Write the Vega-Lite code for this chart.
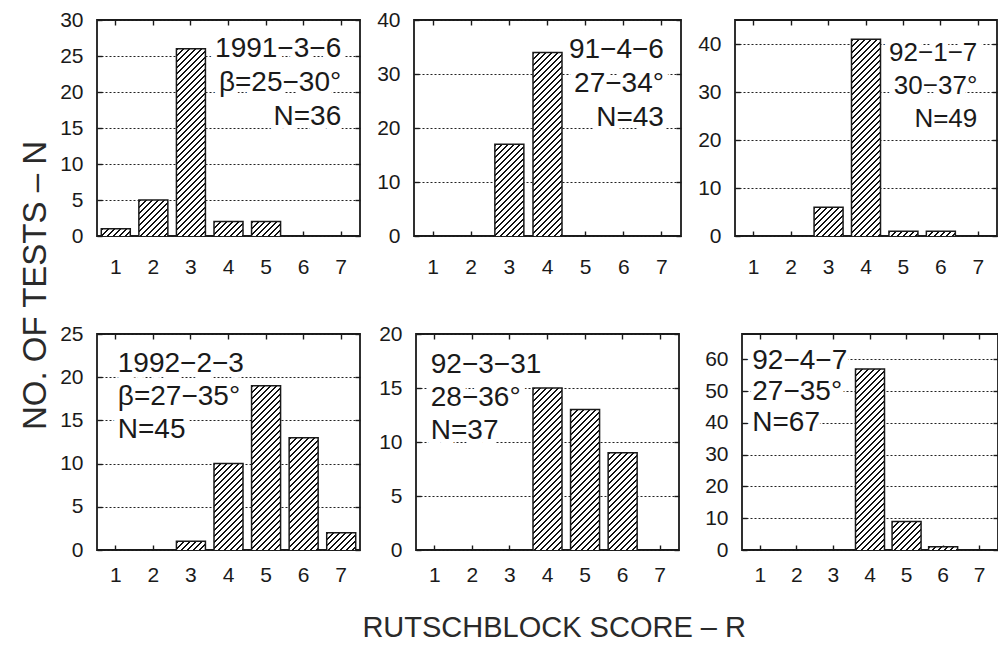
{
  "$schema": "https://vega.github.io/schema/vega-lite/v6.json",
  "background": "white",
  "padding": {"left": 19, "top": 8, "right": 0, "bottom": 0},
  "datasets": {
    "p1": [{"score": 1, "n": 1}, {"score": 2, "n": 5}, {"score": 3, "n": 26}, {"score": 4, "n": 2}, {"score": 5, "n": 2}, {"score": 6, "n": 0}, {"score": 7, "n": 0}],
    "p2": [{"score": 1, "n": 0}, {"score": 2, "n": 0}, {"score": 3, "n": 17}, {"score": 4, "n": 34}, {"score": 5, "n": 0}, {"score": 6, "n": 0}, {"score": 7, "n": 0}],
    "p3": [{"score": 1, "n": 0}, {"score": 2, "n": 0}, {"score": 3, "n": 6}, {"score": 4, "n": 41}, {"score": 5, "n": 1}, {"score": 6, "n": 1}, {"score": 7, "n": 0}],
    "p4": [{"score": 1, "n": 0}, {"score": 2, "n": 0}, {"score": 3, "n": 1}, {"score": 4, "n": 10}, {"score": 5, "n": 19}, {"score": 6, "n": 13}, {"score": 7, "n": 2}],
    "p5": [{"score": 1, "n": 0}, {"score": 2, "n": 0}, {"score": 3, "n": 0}, {"score": 4, "n": 15}, {"score": 5, "n": 13}, {"score": 6, "n": 9}, {"score": 7, "n": 0}],
    "p6": [{"score": 1, "n": 0}, {"score": 2, "n": 0}, {"score": 3, "n": 0}, {"score": 4, "n": 57}, {"score": 5, "n": 9}, {"score": 6, "n": 1}, {"score": 7, "n": 0}]
  },
  "config": {
    "font": "Liberation Sans",
    "view": {"stroke": "#1a1a1a", "strokeWidth": 1.8},
    "axis": {"labelFont": "Liberation Sans", "labelFontSize": 21, "labelColor": "#1a1a1a", "tickColor": "#1a1a1a", "tickWidth": 1.4},
    "text": {"font": "Liberation Sans", "fontSize": 28, "color": "#1a1a1a"},
    "tick": {
      "opacity": 1,
      "stroke": "#1a1a1a",
      "strokeWidth": 1.5,
      "fill": {
        "gradient": "linear", "x1": 0, "y1": 0, "x2": 0.149588, "y2": 1.114173,
        "stops": [
          {"offset": 0, "color": "#fff"},
          {"offset": 0.001523, "color": "#fff"}, {"offset": 0.001523, "color": "#111"}, {"offset": 0.009686, "color": "#111"}, {"offset": 0.009686, "color": "#fff"},
          {"offset": 0.026013, "color": "#fff"}, {"offset": 0.026013, "color": "#111"}, {"offset": 0.034176, "color": "#111"}, {"offset": 0.034176, "color": "#fff"},
          {"offset": 0.050503, "color": "#fff"}, {"offset": 0.050503, "color": "#111"}, {"offset": 0.058666, "color": "#111"}, {"offset": 0.058666, "color": "#fff"},
          {"offset": 0.074992, "color": "#fff"}, {"offset": 0.074992, "color": "#111"}, {"offset": 0.083155, "color": "#111"}, {"offset": 0.083155, "color": "#fff"},
          {"offset": 0.099482, "color": "#fff"}, {"offset": 0.099482, "color": "#111"}, {"offset": 0.107645, "color": "#111"}, {"offset": 0.107645, "color": "#fff"},
          {"offset": 0.123972, "color": "#fff"}, {"offset": 0.123972, "color": "#111"}, {"offset": 0.132135, "color": "#111"}, {"offset": 0.132135, "color": "#fff"},
          {"offset": 0.148462, "color": "#fff"}, {"offset": 0.148462, "color": "#111"}, {"offset": 0.156625, "color": "#111"}, {"offset": 0.156625, "color": "#fff"},
          {"offset": 0.172952, "color": "#fff"}, {"offset": 0.172952, "color": "#111"}, {"offset": 0.181115, "color": "#111"}, {"offset": 0.181115, "color": "#fff"},
          {"offset": 0.197441, "color": "#fff"}, {"offset": 0.197441, "color": "#111"}, {"offset": 0.205604, "color": "#111"}, {"offset": 0.205604, "color": "#fff"},
          {"offset": 0.221931, "color": "#fff"}, {"offset": 0.221931, "color": "#111"}, {"offset": 0.230094, "color": "#111"}, {"offset": 0.230094, "color": "#fff"},
          {"offset": 0.246421, "color": "#fff"}, {"offset": 0.246421, "color": "#111"}, {"offset": 0.254584, "color": "#111"}, {"offset": 0.254584, "color": "#fff"},
          {"offset": 0.270911, "color": "#fff"}, {"offset": 0.270911, "color": "#111"}, {"offset": 0.279074, "color": "#111"}, {"offset": 0.279074, "color": "#fff"},
          {"offset": 0.295401, "color": "#fff"}, {"offset": 0.295401, "color": "#111"}, {"offset": 0.303564, "color": "#111"}, {"offset": 0.303564, "color": "#fff"},
          {"offset": 0.31989, "color": "#fff"}, {"offset": 0.31989, "color": "#111"}, {"offset": 0.328053, "color": "#111"}, {"offset": 0.328053, "color": "#fff"},
          {"offset": 0.34438, "color": "#fff"}, {"offset": 0.34438, "color": "#111"}, {"offset": 0.352543, "color": "#111"}, {"offset": 0.352543, "color": "#fff"},
          {"offset": 0.36887, "color": "#fff"}, {"offset": 0.36887, "color": "#111"}, {"offset": 0.377033, "color": "#111"}, {"offset": 0.377033, "color": "#fff"},
          {"offset": 0.39336, "color": "#fff"}, {"offset": 0.39336, "color": "#111"}, {"offset": 0.401523, "color": "#111"}, {"offset": 0.401523, "color": "#fff"},
          {"offset": 0.41785, "color": "#fff"}, {"offset": 0.41785, "color": "#111"}, {"offset": 0.426013, "color": "#111"}, {"offset": 0.426013, "color": "#fff"},
          {"offset": 0.442339, "color": "#fff"}, {"offset": 0.442339, "color": "#111"}, {"offset": 0.450502, "color": "#111"}, {"offset": 0.450502, "color": "#fff"},
          {"offset": 0.466829, "color": "#fff"}, {"offset": 0.466829, "color": "#111"}, {"offset": 0.474992, "color": "#111"}, {"offset": 0.474992, "color": "#fff"},
          {"offset": 0.491319, "color": "#fff"}, {"offset": 0.491319, "color": "#111"}, {"offset": 0.499482, "color": "#111"}, {"offset": 0.499482, "color": "#fff"},
          {"offset": 0.515809, "color": "#fff"}, {"offset": 0.515809, "color": "#111"}, {"offset": 0.523972, "color": "#111"}, {"offset": 0.523972, "color": "#fff"},
          {"offset": 0.540299, "color": "#fff"}, {"offset": 0.540299, "color": "#111"}, {"offset": 0.548462, "color": "#111"}, {"offset": 0.548462, "color": "#fff"},
          {"offset": 0.564788, "color": "#fff"}, {"offset": 0.564788, "color": "#111"}, {"offset": 0.572951, "color": "#111"}, {"offset": 0.572951, "color": "#fff"},
          {"offset": 0.589278, "color": "#fff"}, {"offset": 0.589278, "color": "#111"}, {"offset": 0.597441, "color": "#111"}, {"offset": 0.597441, "color": "#fff"},
          {"offset": 0.613768, "color": "#fff"}, {"offset": 0.613768, "color": "#111"}, {"offset": 0.621931, "color": "#111"}, {"offset": 0.621931, "color": "#fff"},
          {"offset": 0.638258, "color": "#fff"}, {"offset": 0.638258, "color": "#111"}, {"offset": 0.646421, "color": "#111"}, {"offset": 0.646421, "color": "#fff"},
          {"offset": 0.662747, "color": "#fff"}, {"offset": 0.662747, "color": "#111"}, {"offset": 0.67091, "color": "#111"}, {"offset": 0.67091, "color": "#fff"},
          {"offset": 0.687237, "color": "#fff"}, {"offset": 0.687237, "color": "#111"}, {"offset": 0.6954, "color": "#111"}, {"offset": 0.6954, "color": "#fff"},
          {"offset": 0.711727, "color": "#fff"}, {"offset": 0.711727, "color": "#111"}, {"offset": 0.71989, "color": "#111"}, {"offset": 0.71989, "color": "#fff"},
          {"offset": 0.736217, "color": "#fff"}, {"offset": 0.736217, "color": "#111"}, {"offset": 0.74438, "color": "#111"}, {"offset": 0.74438, "color": "#fff"},
          {"offset": 0.760707, "color": "#fff"}, {"offset": 0.760707, "color": "#111"}, {"offset": 0.76887, "color": "#111"}, {"offset": 0.76887, "color": "#fff"},
          {"offset": 0.785196, "color": "#fff"}, {"offset": 0.785196, "color": "#111"}, {"offset": 0.793359, "color": "#111"}, {"offset": 0.793359, "color": "#fff"},
          {"offset": 0.809686, "color": "#fff"}, {"offset": 0.809686, "color": "#111"}, {"offset": 0.817849, "color": "#111"}, {"offset": 0.817849, "color": "#fff"},
          {"offset": 0.834176, "color": "#fff"}, {"offset": 0.834176, "color": "#111"}, {"offset": 0.842339, "color": "#111"}, {"offset": 0.842339, "color": "#fff"},
          {"offset": 0.858666, "color": "#fff"}, {"offset": 0.858666, "color": "#111"}, {"offset": 0.866829, "color": "#111"}, {"offset": 0.866829, "color": "#fff"},
          {"offset": 0.883156, "color": "#fff"}, {"offset": 0.883156, "color": "#111"}, {"offset": 0.891319, "color": "#111"}, {"offset": 0.891319, "color": "#fff"},
          {"offset": 0.907645, "color": "#fff"}, {"offset": 0.907645, "color": "#111"}, {"offset": 0.915808, "color": "#111"}, {"offset": 0.915808, "color": "#fff"},
          {"offset": 0.932135, "color": "#fff"}, {"offset": 0.932135, "color": "#111"}, {"offset": 0.940298, "color": "#111"}, {"offset": 0.940298, "color": "#fff"},
          {"offset": 0.956625, "color": "#fff"}, {"offset": 0.956625, "color": "#111"}, {"offset": 0.964788, "color": "#111"}, {"offset": 0.964788, "color": "#fff"},
          {"offset": 0.981115, "color": "#fff"}, {"offset": 0.981115, "color": "#111"}, {"offset": 0.989278, "color": "#111"}, {"offset": 0.989278, "color": "#fff"},
          {"offset": 1, "color": "#fff"}
        ]
      }
    }
  },
  "title": {"text": "NO.  OF  TESTS  –  N", "orient": "left", "anchor": "middle", "dx": 40, "fontSize": 33, "fontWeight": "normal", "color": "#2a2a2a", "font": "Liberation Sans", "offset": 6},
  "vconcat": [
    {
      "title": {"text": "RUTSCHBLOCK SCORE – R", "orient": "bottom", "anchor": "middle", "dx": 25, "fontSize": 29, "fontWeight": "normal", "color": "#2a2a2a", "font": "Liberation Sans", "offset": 28},
      "spacing": 44,
      "vconcat": [
        {
          "spacing": 13,
          "hconcat": [
            {
              "width": 263, "height": 216,
              "resolve": {"axis": {"x": "independent", "y": "independent"}},
              "layer": [
                {
                  "data": {"values": [{}]},
                  "mark": {"type": "text", "align": "right", "baseline": "alphabetic", "lineHeight": 34, "dx": 0, "stroke": "white", "strokeWidth": 12, "strokeJoin": "round", "fill": "white"},
                  "encoding": {
                    "x": {"datum": 7, "type": "ordinal", "scale": {"domain": [1, 2, 3, 4, 5, 6, 7], "paddingInner": 0.234, "paddingOuter": 0.117}, "axis": {"orient": "top", "labels": false, "tickSize": -5, "title": null, "domain": false, "grid": false}},
                    "y": {"datum": 24.8, "type": "quantitative", "scale": {"domain": [0, 30], "nice": false}, "axis": {"orient": "right", "values": [0, 5, 10, 15, 20, 25, 30], "labels": false, "grid": false, "tickSize": -5, "title": null, "domain": false}},
                    "text": {"value": ["1991−3−6", "β=25−30°", "N=36"]}
                  }
                },
                {
                  "data": {"name": "p1"},
                  "mark": {"type": "tick", "orient": "horizontal", "size": 29, "thickness": 216, "yOffset": 108, "clip": true},
                  "encoding": {
                    "x": {"field": "score", "type": "ordinal", "scale": {"domain": [1, 2, 3, 4, 5, 6, 7], "paddingInner": 0.234, "paddingOuter": 0.117}, "axis": {"orient": "bottom", "labelAngle": 0, "labelPadding": 25, "tickSize": -5, "title": null, "domain": false, "grid": false}},
                    "y": {"field": "n", "type": "quantitative", "scale": {"domain": [0, 30], "nice": false}, "axis": {"values": [0, 5, 10, 15, 20, 25, 30], "grid": true, "gridDash": [2, 2], "gridColor": "#222", "gridWidth": 1.2, "labelPadding": 19, "tickSize": -5, "title": null, "domain": false}}
                  }
                },
                {
                  "data": {"values": [{}]},
                  "mark": {"type": "text", "align": "right", "baseline": "alphabetic", "lineHeight": 34, "dx": 0},
                  "encoding": {
                    "x": {"datum": 7, "type": "ordinal", "scale": {"domain": [1, 2, 3, 4, 5, 6, 7], "paddingInner": 0.234, "paddingOuter": 0.117}, "axis": null},
                    "y": {"datum": 24.8, "type": "quantitative", "scale": {"domain": [0, 30], "nice": false}, "axis": null},
                    "text": {"value": ["1991−3−6", "β=25−30°", "N=36"]}
                  }
                }
              ]
            },
            {
              "width": 267, "height": 216,
              "resolve": {"axis": {"x": "independent", "y": "independent"}},
              "layer": [
                {
                  "data": {"values": [{}]},
                  "mark": {"type": "text", "align": "right", "baseline": "alphabetic", "lineHeight": 34, "dx": 2, "stroke": "white", "strokeWidth": 12, "strokeJoin": "round", "fill": "white"},
                  "encoding": {
                    "x": {"datum": 7, "type": "ordinal", "scale": {"domain": [1, 2, 3, 4, 5, 6, 7], "paddingInner": 0.234, "paddingOuter": 0.117}, "axis": {"orient": "top", "labels": false, "tickSize": -5, "title": null, "domain": false, "grid": false}},
                    "y": {"datum": 32.9, "type": "quantitative", "scale": {"domain": [0, 40], "nice": false}, "axis": {"orient": "right", "values": [0, 10, 20, 30, 40], "labels": false, "grid": false, "tickSize": -5, "title": null, "domain": false}},
                    "text": {"value": ["91−4−6", "27−34°", "N=43"]}
                  }
                },
                {
                  "data": {"name": "p2"},
                  "mark": {"type": "tick", "orient": "horizontal", "size": 29, "thickness": 216, "yOffset": 108, "clip": true},
                  "encoding": {
                    "x": {"field": "score", "type": "ordinal", "scale": {"domain": [1, 2, 3, 4, 5, 6, 7], "paddingInner": 0.234, "paddingOuter": 0.117}, "axis": {"orient": "bottom", "labelAngle": 0, "labelPadding": 25, "tickSize": -5, "title": null, "domain": false, "grid": false}},
                    "y": {"field": "n", "type": "quantitative", "scale": {"domain": [0, 40], "nice": false}, "axis": {"values": [0, 10, 20, 30, 40], "grid": true, "gridDash": [2, 2], "gridColor": "#222", "gridWidth": 1.2, "labelPadding": 19, "tickSize": -5, "title": null, "domain": false}}
                  }
                },
                {
                  "data": {"values": [{}]},
                  "mark": {"type": "text", "align": "right", "baseline": "alphabetic", "lineHeight": 34, "dx": 2},
                  "encoding": {
                    "x": {"datum": 7, "type": "ordinal", "scale": {"domain": [1, 2, 3, 4, 5, 6, 7], "paddingInner": 0.234, "paddingOuter": 0.117}, "axis": null},
                    "y": {"datum": 32.9, "type": "quantitative", "scale": {"domain": [0, 40], "nice": false}, "axis": null},
                    "text": {"value": ["91−4−6", "27−34°", "N=43"]}
                  }
                }
              ]
            },
            {
              "width": 262, "height": 216,
              "resolve": {"axis": {"x": "independent", "y": "independent"}},
              "layer": [
                {
                  "data": {"values": [{}]},
                  "mark": {"type": "text", "align": "right", "baseline": "alphabetic", "fontSize": 26, "lineHeight": 33, "dx": -1, "stroke": "white", "strokeWidth": 12, "strokeJoin": "round", "fill": "white"},
                  "encoding": {
                    "x": {"datum": 7, "type": "ordinal", "scale": {"domain": [1, 2, 3, 4, 5, 6, 7], "paddingInner": 0.234, "paddingOuter": 0.117}, "axis": {"orient": "top", "labels": false, "tickSize": -5, "title": null, "domain": false, "grid": false}},
                    "y": {"datum": 36.5, "type": "quantitative", "scale": {"domain": [0, 45], "nice": false}, "axis": {"orient": "right", "values": [0, 10, 20, 30, 40], "labels": false, "grid": false, "tickSize": -5, "title": null, "domain": false}},
                    "text": {"value": ["92−1−7", "30−37°", "N=49"]}
                  }
                },
                {
                  "data": {"name": "p3"},
                  "mark": {"type": "tick", "orient": "horizontal", "size": 29, "thickness": 216, "yOffset": 108, "clip": true},
                  "encoding": {
                    "x": {"field": "score", "type": "ordinal", "scale": {"domain": [1, 2, 3, 4, 5, 6, 7], "paddingInner": 0.234, "paddingOuter": 0.117}, "axis": {"orient": "bottom", "labelAngle": 0, "labelPadding": 25, "tickSize": -5, "title": null, "domain": false, "grid": false}},
                    "y": {"field": "n", "type": "quantitative", "scale": {"domain": [0, 45], "nice": false}, "axis": {"values": [0, 10, 20, 30, 40], "grid": true, "gridDash": [2, 2], "gridColor": "#222", "gridWidth": 1.2, "labelPadding": 19, "tickSize": -5, "title": null, "domain": false}}
                  }
                },
                {
                  "data": {"values": [{}]},
                  "mark": {"type": "text", "align": "right", "baseline": "alphabetic", "fontSize": 26, "lineHeight": 33, "dx": -1},
                  "encoding": {
                    "x": {"datum": 7, "type": "ordinal", "scale": {"domain": [1, 2, 3, 4, 5, 6, 7], "paddingInner": 0.234, "paddingOuter": 0.117}, "axis": null},
                    "y": {"datum": 36.5, "type": "quantitative", "scale": {"domain": [0, 45], "nice": false}, "axis": null},
                    "text": {"value": ["92−1−7", "30−37°", "N=49"]}
                  }
                }
              ]
            }
          ]
        },
        {
          "spacing": 15,
          "hconcat": [
            {
              "width": 263, "height": 216,
              "resolve": {"axis": {"x": "independent", "y": "independent"}},
              "layer": [
                {
                  "data": {"values": [{}]},
                  "mark": {"type": "text", "align": "left", "baseline": "alphabetic", "lineHeight": 33, "dx": 2, "stroke": "white", "strokeWidth": 12, "strokeJoin": "round", "fill": "white"},
                  "encoding": {
                    "x": {"datum": 1, "type": "ordinal", "scale": {"domain": [1, 2, 3, 4, 5, 6, 7], "paddingInner": 0.234, "paddingOuter": 0.117}, "axis": {"orient": "top", "labels": false, "tickSize": -5, "title": null, "domain": false, "grid": false}},
                    "y": {"datum": 20.6, "type": "quantitative", "scale": {"domain": [0, 25], "nice": false}, "axis": {"orient": "right", "values": [0, 5, 10, 15, 20, 25], "labels": false, "grid": false, "tickSize": -5, "title": null, "domain": false}},
                    "text": {"value": ["1992−2−3", "β=27−35°", "N=45"]}
                  }
                },
                {
                  "data": {"name": "p4"},
                  "mark": {"type": "tick", "orient": "horizontal", "size": 29, "thickness": 216, "yOffset": 108, "clip": true},
                  "encoding": {
                    "x": {"field": "score", "type": "ordinal", "scale": {"domain": [1, 2, 3, 4, 5, 6, 7], "paddingInner": 0.234, "paddingOuter": 0.117}, "axis": {"orient": "bottom", "labelAngle": 0, "labelPadding": 19, "tickSize": -5, "title": null, "domain": false, "grid": false}},
                    "y": {"field": "n", "type": "quantitative", "scale": {"domain": [0, 25], "nice": false}, "axis": {"values": [0, 5, 10, 15, 20, 25], "grid": true, "gridDash": [2, 2], "gridColor": "#222", "gridWidth": 1.2, "labelPadding": 19, "tickSize": -5, "title": null, "domain": false}}
                  }
                },
                {
                  "data": {"values": [{}]},
                  "mark": {"type": "text", "align": "left", "baseline": "alphabetic", "lineHeight": 33, "dx": 2},
                  "encoding": {
                    "x": {"datum": 1, "type": "ordinal", "scale": {"domain": [1, 2, 3, 4, 5, 6, 7], "paddingInner": 0.234, "paddingOuter": 0.117}, "axis": null},
                    "y": {"datum": 20.6, "type": "quantitative", "scale": {"domain": [0, 25], "nice": false}, "axis": null},
                    "text": {"value": ["1992−2−3", "β=27−35°", "N=45"]}
                  }
                }
              ]
            },
            {
              "width": 263, "height": 216,
              "resolve": {"axis": {"x": "independent", "y": "independent"}},
              "layer": [
                {
                  "data": {"values": [{}]},
                  "mark": {"type": "text", "align": "left", "baseline": "alphabetic", "lineHeight": 33, "dx": -4, "stroke": "white", "strokeWidth": 12, "strokeJoin": "round", "fill": "white"},
                  "encoding": {
                    "x": {"datum": 1, "type": "ordinal", "scale": {"domain": [1, 2, 3, 4, 5, 6, 7], "paddingInner": 0.234, "paddingOuter": 0.117}, "axis": {"orient": "top", "labels": false, "tickSize": -5, "title": null, "domain": false, "grid": false}},
                    "y": {"datum": 16.4, "type": "quantitative", "scale": {"domain": [0, 20], "nice": false}, "axis": {"orient": "right", "values": [0, 5, 10, 15, 20], "labels": false, "grid": false, "tickSize": -5, "title": null, "domain": false}},
                    "text": {"value": ["92−3−31", "28−36°", "N=37"]}
                  }
                },
                {
                  "data": {"name": "p5"},
                  "mark": {"type": "tick", "orient": "horizontal", "size": 29, "thickness": 216, "yOffset": 108, "clip": true},
                  "encoding": {
                    "x": {"field": "score", "type": "ordinal", "scale": {"domain": [1, 2, 3, 4, 5, 6, 7], "paddingInner": 0.234, "paddingOuter": 0.117}, "axis": {"orient": "bottom", "labelAngle": 0, "labelPadding": 19, "tickSize": -5, "title": null, "domain": false, "grid": false}},
                    "y": {"field": "n", "type": "quantitative", "scale": {"domain": [0, 20], "nice": false}, "axis": {"values": [0, 5, 10, 15, 20], "grid": true, "gridDash": [2, 2], "gridColor": "#222", "gridWidth": 1.2, "labelPadding": 19, "tickSize": -5, "title": null, "domain": false}}
                  }
                },
                {
                  "data": {"values": [{}]},
                  "mark": {"type": "text", "align": "left", "baseline": "alphabetic", "lineHeight": 33, "dx": -4},
                  "encoding": {
                    "x": {"datum": 1, "type": "ordinal", "scale": {"domain": [1, 2, 3, 4, 5, 6, 7], "paddingInner": 0.234, "paddingOuter": 0.117}, "axis": null},
                    "y": {"datum": 16.4, "type": "quantitative", "scale": {"domain": [0, 20], "nice": false}, "axis": null},
                    "text": {"value": ["92−3−31", "28−36°", "N=37"]}
                  }
                }
              ]
            },
            {
              "width": 256, "height": 216,
              "resolve": {"axis": {"x": "independent", "y": "independent"}},
              "layer": [
                {
                  "data": {"values": [{}]},
                  "mark": {"type": "text", "align": "left", "baseline": "alphabetic", "lineHeight": 31, "dx": -8, "stroke": "white", "strokeWidth": 12, "strokeJoin": "round", "fill": "white"},
                  "encoding": {
                    "x": {"datum": 1, "type": "ordinal", "scale": {"domain": [1, 2, 3, 4, 5, 6, 7], "paddingInner": 0.234, "paddingOuter": 0.117}, "axis": {"orient": "top", "labels": false, "tickSize": -5, "title": null, "domain": false, "grid": false}},
                    "y": {"datum": 57, "type": "quantitative", "scale": {"domain": [0, 68], "nice": false}, "axis": {"orient": "right", "values": [0, 10, 20, 30, 40, 50, 60], "labels": false, "grid": false, "tickSize": -5, "title": null, "domain": false}},
                    "text": {"value": ["92−4−7", "27−35°", "N=67"]}
                  }
                },
                {
                  "data": {"name": "p6"},
                  "mark": {"type": "tick", "orient": "horizontal", "size": 29, "thickness": 216, "yOffset": 108, "clip": true},
                  "encoding": {
                    "x": {"field": "score", "type": "ordinal", "scale": {"domain": [1, 2, 3, 4, 5, 6, 7], "paddingInner": 0.234, "paddingOuter": 0.117}, "axis": {"orient": "bottom", "labelAngle": 0, "labelPadding": 19, "tickSize": -5, "title": null, "domain": false, "grid": false}},
                    "y": {"field": "n", "type": "quantitative", "scale": {"domain": [0, 68], "nice": false}, "axis": {"values": [0, 10, 20, 30, 40, 50, 60], "grid": true, "gridDash": [2, 2], "gridColor": "#222", "gridWidth": 1.2, "labelPadding": 19, "tickSize": -5, "minExtent": 45, "title": null, "domain": false}}
                  }
                },
                {
                  "data": {"values": [{}]},
                  "mark": {"type": "text", "align": "left", "baseline": "alphabetic", "lineHeight": 31, "dx": -8},
                  "encoding": {
                    "x": {"datum": 1, "type": "ordinal", "scale": {"domain": [1, 2, 3, 4, 5, 6, 7], "paddingInner": 0.234, "paddingOuter": 0.117}, "axis": null},
                    "y": {"datum": 57, "type": "quantitative", "scale": {"domain": [0, 68], "nice": false}, "axis": null},
                    "text": {"value": ["92−4−7", "27−35°", "N=67"]}
                  }
                }
              ]
            }
          ]
        }
      ]
    }
  ]
}
